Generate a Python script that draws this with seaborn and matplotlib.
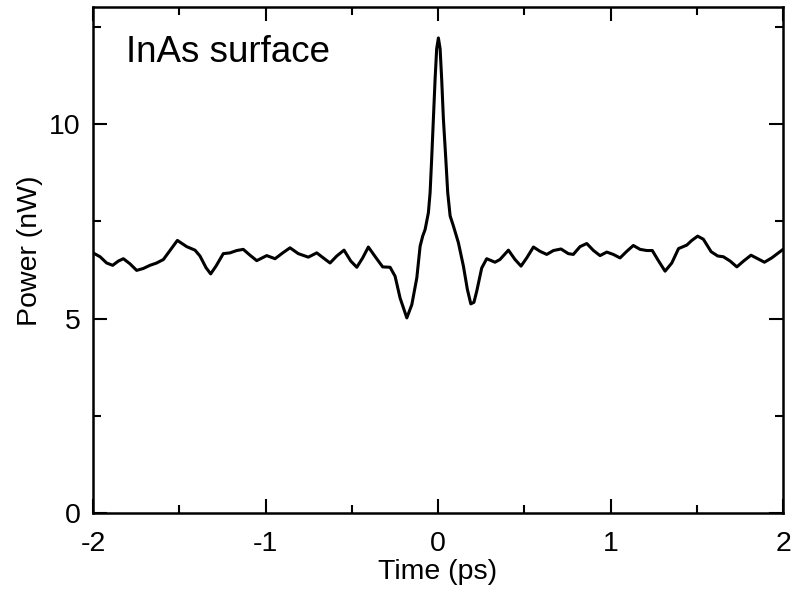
import pandas as pd
import matplotlib.pyplot as plt
import seaborn as sns

# values
time_ps = [-2.0, -1.959, -1.921, -1.886, -1.853, -1.824, -1.786, -1.747,
           -1.708, -1.670, -1.631, -1.592, -1.554, -1.511, -1.457, -1.409,
           -1.380, -1.345, -1.318, -1.287, -1.245, -1.206, -1.167, -1.129,
           -1.090, -1.051, -0.993, -0.945, -0.900, -0.858, -0.810, -0.752,
           -0.703, -0.665, -0.626, -0.587, -0.545, -0.506, -0.471, -0.437,
           -0.404, -0.359, -0.321, -0.278, -0.249, -0.220, -0.181, -0.152,
           -0.123, -0.104, -0.089, -0.075, -0.056, -0.046, -0.037, -0.027,
           -0.017, -0.008, 0.002, 0.012, 0.021, 0.031, 0.045, 0.056, 0.070,
           0.089, 0.118, 0.147, 0.170, 0.190, 0.208, 0.224, 0.253, 0.282,
           0.330, 0.359, 0.408, 0.446, 0.481, 0.514, 0.553, 0.591, 0.630,
           0.669, 0.713, 0.755, 0.784, 0.823, 0.862, 0.901, 0.939, 0.978,
           1.016, 1.055, 1.094, 1.132, 1.171, 1.210, 1.242, 1.273, 1.316,
           1.355, 1.394, 1.442, 1.471, 1.505, 1.538, 1.583, 1.621, 1.654,
           1.693, 1.732, 1.771, 1.814, 1.853, 1.892, 1.934, 2.0]
power_nw = [6.69, 6.59, 6.43, 6.37, 6.48, 6.54, 6.41, 6.24,
            6.29, 6.37, 6.43, 6.52, 6.75, 7.01, 6.85, 6.76,
            6.61, 6.31, 6.15, 6.35, 6.67, 6.69, 6.75, 6.78,
            6.63, 6.49, 6.62, 6.54, 6.69, 6.82, 6.67, 6.58,
            6.69, 6.56, 6.43, 6.61, 6.76, 6.48, 6.32, 6.56,
            6.84, 6.56, 6.33, 6.32, 6.09, 5.53, 5.02, 5.36,
            6.05, 6.86, 7.12, 7.29, 7.72, 8.24, 9.10, 10.13,
            11.16, 11.93, 12.21, 11.93, 11.16, 10.13, 9.10, 8.24, 7.64,
            7.38, 6.95, 6.35, 5.75, 5.38, 5.42, 5.70, 6.30, 6.54,
            6.45, 6.52, 6.76, 6.52, 6.35, 6.56, 6.84, 6.73, 6.65,
            6.75, 6.79, 6.67, 6.65, 6.85, 6.93, 6.75, 6.62, 6.71,
            6.65, 6.56, 6.73, 6.88, 6.78, 6.75, 6.75, 6.52, 6.22,
            6.43, 6.80, 6.89, 7.01, 7.12, 7.04, 6.72, 6.61, 6.59,
            6.48, 6.33, 6.48, 6.63, 6.54, 6.45, 6.56, 6.78]

df = pd.DataFrame({'time': time_ps, 'power': power_nw})

sns.set_style('ticks')
plt.rcParams['font.family'] = ['Liberation Sans', 'DejaVu Sans']
plt.rcParams['text.color'] = 'black'
plt.rcParams['axes.labelcolor'] = 'black'
plt.rcParams['xtick.color'] = 'black'
plt.rcParams['ytick.color'] = 'black'

fig, ax = plt.subplots(figsize=(7.95, 5.99), dpi=100)
fig.subplots_adjust(left=0.117, right=0.985, top=0.988, bottom=0.143)

sns.lineplot(data=df, x='time', y='power', color='black', linewidth=2.2,
             ax=ax)
ax.lines[0].set_solid_joinstyle('round')

ax.set_xlim(-2, 2)
ax.set_ylim(0, 13)
ax.set_xticks([-2, -1, 0, 1, 2])
ax.set_xticklabels(['-2', '-1', '0', '1', '2'])
ax.set_yticks([0, 5, 10])
ax.set_xticks([-1.5, -0.5, 0.5, 1.5], minor=True)
ax.set_yticks([2.5, 7.5, 12.5], minor=True)
ax.tick_params(which='both', direction='in', top=True, right=True,
               labelsize=20.5, width=1.5, color='black')
ax.tick_params(which='major', length=10)
ax.tick_params(which='minor', length=6)
ax.tick_params(axis='x', which='major', pad=13)
ax.tick_params(axis='y', which='major', pad=9)
for s in ax.spines.values():
    s.set_linewidth(1.8)
    s.set_color('black')

ax.set_xlabel('Time (ps)', fontsize=20.5, labelpad=1)
ax.set_ylabel('Power (nW)', fontsize=20.5)
ax.yaxis.set_label_coords(-0.072, 0.518)
ax.text(0.048, 0.891, 'InAs surface', transform=ax.transAxes, fontsize=26.5,
        va='baseline')

fig.savefig('out.png', dpi=100)
